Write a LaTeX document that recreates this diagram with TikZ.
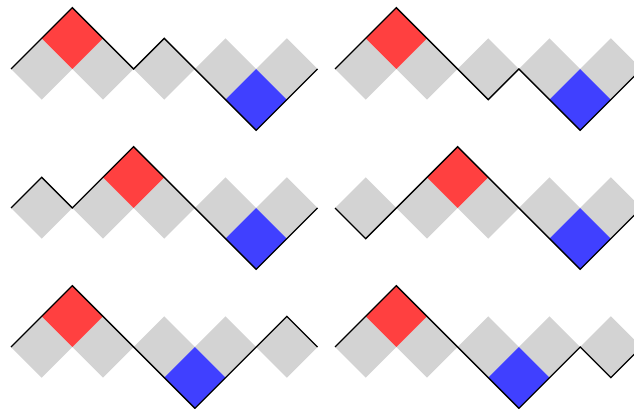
\documentclass[tikz,border=0pt]{standalone}
\definecolor{cellred}{RGB}{255,64,64}
\definecolor{cellblue}{RGB}{64,64,255}
\definecolor{cellgray}{RGB}{211,211,211}
\tikzset{
  graycell/.style={fill=cellgray},
  redcell/.style={fill=cellred},
  bluecell/.style={fill=cellblue},
  dyck/.style={draw=black,line width=1pt,line join=miter}
}
\newcommand\dyckpanel[5]{%
  \begin{scope}[shift={(#1,#2)},x=22.99pt,y=22.99pt]
    \foreach \c in {1,3,5,7,9}
      \path[graycell] (\c,0) ++(-1,0) -- ++(1,1) -- ++(1,-1) -- ++(-1,-1) -- cycle;
    \path[redcell] (#4) ++(-1,0) -- ++(1,1) -- ++(1,-1) -- ++(-1,-1) -- cycle;
    \path[bluecell] (#5) ++(-1,0) -- ++(1,1) -- ++(1,-1) -- ++(-1,-1) -- cycle;
    \draw[dyck] (0,0) \foreach \h [count=\i] in {#3} { -- (\i,\h) };
  \end{scope}}
\begin{document}
\begin{tikzpicture}[x=0.75pt,y=-0.75pt]
  \useasboundingbox (0,0) rectangle (634,409);
  \clip (0,0) rectangle (634,409);
  \dyckpanel{11}{69}{1,2,1,0,1,0,-1,-2,-1,0}{2,1}{8,-1}
  \dyckpanel{335}{69}{1,2,1,0,-1,0,-1,-2,-1,0}{2,1}{8,-1}
  \dyckpanel{11}{208}{1,0,1,2,1,0,-1,-2,-1,0}{4,1}{8,-1}
  \dyckpanel{335}{208}{-1,0,1,2,1,0,-1,-2,-1,0}{4,1}{8,-1}
  \dyckpanel{11}{347}{1,2,1,0,-1,-2,-1,0,1,0}{2,1}{6,-1}
  \dyckpanel{335}{347}{1,2,1,0,-1,-2,-1,0,-1,0}{2,1}{6,-1}
\end{tikzpicture}
\end{document}
